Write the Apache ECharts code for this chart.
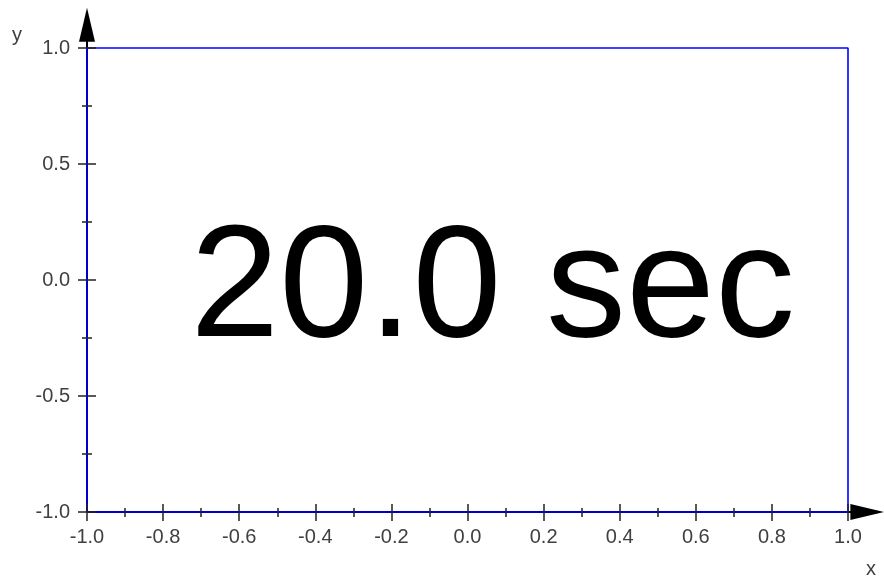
<!DOCTYPE html>
<html>
<head>
<meta charset="utf-8">
<script src="https://cdn.jsdelivr.net/npm/echarts@6/dist/echarts.min.js"></script>
<style>html,body{margin:0;padding:0;background:#fff}#c{width:884px;height:579px}</style>
</head>
<body>
<div id="c"></div>
<script>
// ---- data ----
const xTickValues = [-1.0, -0.8, -0.6, -0.4, -0.2, 0.0, 0.2, 0.4, 0.6, 0.8, 1.0];
const yTickValues = [-1.0, -0.5, 0.0, 0.5, 1.0];
const rectX = [-1, 1, 1, -1, -1];
const rectY = [-1, -1, 1, 1, -1];
const xArrowEnd = [1.051, -1];
const yArrowEnd = [-1, 1.10];
const axisOrigin = [-1, -1];
const centerTextPos = [0.066, -0.05];
const centerText = ['20.0 sec'];
const axisNames = ['x', 'y'];

const FONT = 'Liberation Sans, Arial, sans-serif';
const chart = echarts.init(document.getElementById('c'), null, {renderer: 'canvas'});
const fmt = v => v.toFixed(1);

function xAx(inside, showLabel) {
  return {
    type: 'value', min: -1, max: 1, interval: 0.2, position: 'bottom', z: 5,
    axisLine: {show: false, onZero: false},
    splitLine: {show: false},
    axisTick: {show: true, inside: inside, length: inside ? 8 : 9, lineStyle: {color: '#222', width: 1.5}},
    minorTick: {show: true, splitNumber: 2, length: inside ? 4 : 5, lineStyle: {color: '#222', width: 1.5}},
    axisLabel: {show: showLabel, customValues: xTickValues, formatter: fmt, margin: 15,
      fontFamily: FONT, fontSize: 20, color: '#404040'}
  };
}
function yAx(inside, showLabel) {
  return {
    type: 'value', min: -1, max: 1, interval: 0.5, position: 'left', z: 5,
    axisLine: {show: false, onZero: false},
    splitLine: {show: false},
    axisTick: {show: true, inside: inside, length: 9, lineStyle: {color: '#222', width: 1.5}},
    minorTick: {show: true, splitNumber: 2, length: 5, lineStyle: {color: '#222', width: 1.5}},
    axisLabel: {show: showLabel, customValues: yTickValues, formatter: fmt, margin: 17,
      fontFamily: FONT, fontSize: 20, color: '#404040', padding: [8, 0, 0, 0]},
    name: showLabel ? axisNames[1] : '', nameLocation: 'end', nameGap: 13, nameMoveOverlap: false,
    nameTextStyle: {fontFamily: FONT, fontSize: 20, color: '#404040', align: 'center', verticalAlign: 'middle', padding: [0, 140, 0, 0]}
  };
}

const option = {
  animation: false,
  backgroundColor: '#fff',
  title: {text: axisNames[0], left: 866, top: 559, padding: 0,
    textStyle: {fontFamily: FONT, fontSize: 20, fontWeight: 'normal', color: '#404040'}},
  grid: {left: 87, right: 36, top: 48, bottom: 67, containLabel: false},
  xAxis: [xAx(true, true), xAx(false, false)],
  yAxis: [yAx(true, true), yAx(false, false)],
  series: [
    {
      type: 'lines', coordinateSystem: 'cartesian2d', clip: false, z: 2, silent: true,
      symbol: ['none', 'triangle'], symbolSize: [[16, 34], [16, 34]],
      lineStyle: {color: '#000', width: 2, opacity: 1, curveness: 0},
      data: [
        {coords: [axisOrigin, xArrowEnd]},
        {coords: [axisOrigin, yArrowEnd]}
      ]
    },
    {
      type: 'line', clip: false, z: 3, silent: true, symbol: 'none',
      lineStyle: {color: '#0000ff', width: 1.6},
      data: rectX.map((x, i) => [x, rectY[i]])
    },
    {
      type: 'scatter', z: 4, silent: true, symbolSize: 0,
      itemStyle: {opacity: 1},
      data: [centerTextPos],
      label: {show: true, position: 'inside', formatter: () => centerText[0],
        fontFamily: FONT, fontSize: 160, color: '#000000', opacity: 1, textBorderWidth: 0,
        align: 'center', verticalAlign: 'middle'}
    }
  ]
};
chart.setOption(option);
</script>
</body>
</html>
